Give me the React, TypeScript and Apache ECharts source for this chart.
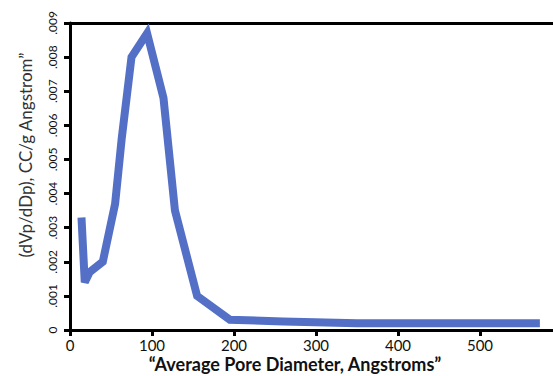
import React, { useEffect, useRef } from "react";
import * as echarts from "echarts";

const diameters = [14, 18, 24, 40, 55, 63, 75, 94, 114, 128, 155, 195, 260, 350, 450, 573];
const dvdd = [0.0033, 0.0014, 0.0017, 0.002, 0.0037, 0.0056, 0.008, 0.0087, 0.0068, 0.0035, 0.001, 0.0003, 0.00025, 0.0002, 0.0002, 0.0002];
const xTitle = "\u201CAverage Pore Diameter, Angstroms\u201D";
const yTitle = "(dVp/dDp), CC/g Angstrom\u201D";

export default function App() {
  const ref = useRef<HTMLDivElement>(null);
  useEffect(() => {
    if (!ref.current) return;
    const chart = echarts.init(ref.current, null, { renderer: "svg" });
    const font = "Lato, 'Noto Sans', sans-serif";
    chart.setOption({
      animation: false,
      grid: { left: 70, top: 23, right: 0, bottom: 46 },
      xAxis: [
        {
          type: "value",
          min: 0,
          max: 589,
          interval: 100,
          splitLine: { show: false },
          axisLine: { lineStyle: { color: "#000", width: 3 } },
          axisTick: { length: 6, lineStyle: { color: "#000", width: 3 } },
          axisLabel: {
            margin: 7,
            color: "#111",
            fontSize: 15,
            fontFamily: font,
            showMaxLabel: false,
          },
        },
        {
          type: "value",
          position: "top",
          min: 0,
          max: 589,
          splitLine: { show: false },
          axisLine: { show: true, lineStyle: { color: "#000", width: 3 } },
          axisTick: { show: false },
          axisLabel: { show: false },
        },
      ],
      yAxis: {
        type: "value",
        min: 0,
        max: 0.009,
        interval: 0.001,
        splitLine: { show: false },
        axisLine: { lineStyle: { color: "#000", width: 3 } },
        axisTick: { length: 6, lineStyle: { color: "#000", width: 3 } },
        axisLabel: {
          rotate: 90,
          margin: 12,
          color: "#111",
          fontSize: 12,
          fontFamily: font,
          formatter: (v: number) => (v === 0 ? "0" : v.toFixed(3).replace(/^0/, "")),
        },
      },
      graphic: [
        {
          type: "text",
          x: 295,
          y: 364,
          style: {
            text: xTitle,
            fill: "#111",
            font: `bold 18px ${font}`,
            textAlign: "center",
            textVerticalAlign: "middle",
          },
        },
        {
          type: "text",
          x: 25,
          y: 155,
          rotation: Math.PI / 2,
          style: {
            text: yTitle,
            fill: "#333",
            font: `17px ${font}`,
            textAlign: "center",
            textVerticalAlign: "middle",
          },
        },
      ],
      series: [
        {
          type: "line",
          xAxisIndex: 0,
          data: diameters.map((d, i) => [d, dvdd[i]]),
          showSymbol: false,
          lineStyle: { color: "#5470c6", width: 8, join: "miter" },
        },
      ],
    });
    return () => chart.dispose();
  }, []);
  return <div ref={ref} style={{ width: 553, height: 376, position: "absolute", left: 0, top: 0 }} />;
}
